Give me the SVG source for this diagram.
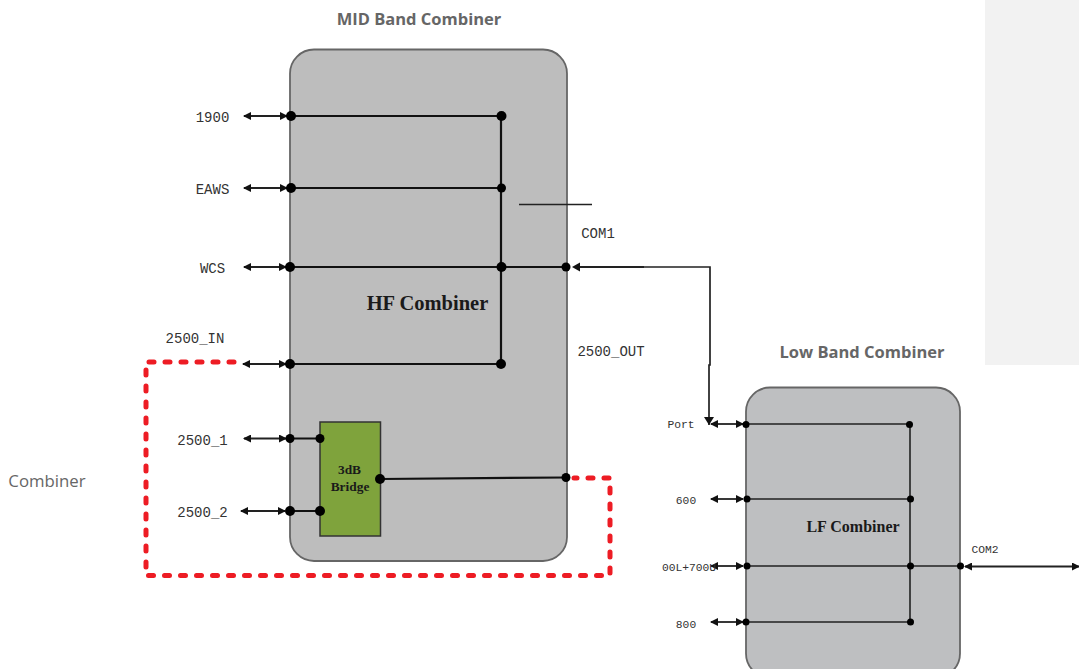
<svg xmlns="http://www.w3.org/2000/svg" width="1079" height="669" viewBox="0 0 1079 669">
<style>
.box{stroke:#666;stroke-width:1.8}
.w{fill:none;stroke:#111;stroke-width:2.2}
.t{fill:none;stroke:#222;stroke-width:1.6}
.a{fill:none;stroke:#222;stroke-width:1.8;marker-start:url(#ah);marker-end:url(#ah)}
.lbl{font-family:"Liberation Mono","DejaVu Sans Mono",monospace;font-size:14px;fill:#333;text-anchor:middle}
.sm{font-size:11.300px}
.b{font-family:"Liberation Serif","DejaVu Serif",serif;font-weight:bold;fill:#1a1a1a;text-anchor:middle}
.h{font-family:"Open Sans","Liberation Sans",sans-serif;font-size:16.500px;font-weight:bold;fill:#666;text-anchor:middle}
.red{fill:none;stroke:#ed1c24;stroke-width:5;stroke-linecap:round;stroke-dasharray:5 11}
</style>
<defs>
<marker id="ah" viewBox="0 0 8 8" refX="7" refY="4" markerWidth="8" markerHeight="8" markerUnits="userSpaceOnUse" orient="auto-start-reverse"><path d="M0 0L8 4L0 8Z" fill="#111"/></marker>
<marker id="ae" viewBox="0 0 8 10" refX="8" refY="5" markerWidth="8" markerHeight="10" markerUnits="userSpaceOnUse" orient="auto"><path d="M0 0L8 5L0 10Z" fill="#111"/></marker>
</defs>
<rect id="sidebar" x="985" y="0" width="94" height="365" fill="#f2f2f2"/>
<g id="mid-band-combiner">
<rect class="box" x="290" y="49.500" width="277" height="511.500" rx="24" fill="#bdbdbd"/>
<text class="h" x="419" y="25">MID Band Combiner</text>
<text class="b" x="427.500" y="310" font-size="20.500">HF Combiner</text>
</g>
<g id="low-band-combiner">
<rect class="box" x="746" y="387.500" width="214" height="290" rx="24" fill="#bebfc1"/>
<text class="h" x="862" y="358">Low Band Combiner</text>
<text class="b" x="853" y="532" font-size="16">LF Combiner</text>
</g>
<g id="bridge">
<rect x="320" y="422" width="60.500" height="114" fill="#7fa33c" stroke="#333" stroke-width="1.500"/>
<text class="b" x="349.500" y="474" font-size="13.400">3dB</text>
<text class="b" x="350" y="491" font-size="13.400">Bridge</text>
</g>
<g id="connectors">
<path class="w" d="M290 116H501M290 188H501M290 267H566M290 364H501M501 116V364M380 479L566 477.500M290 438.500H320M290 511H320"/>
<path class="t" d="M519 204.500H592M746 424H909M746 499H911M746 566H960M746 622H909M910 424V622" />
<path d="M580 267H710V365H709V425" fill="none" stroke="#222" stroke-width="1.700" marker-end="url(#ae)"/>
<path class="t" d="M580 267H644" style="stroke-width:2.200"/>
<path class="a" d="M244 116H287"/>
<path class="a" d="M244 188H287"/>
<path class="a" d="M244 267H286"/>
<path class="a" d="M243 364H286"/>
<path class="a" d="M244 438.500H286"/>
<path class="a" d="M241 511H285"/>
<path class="a" d="M711 424H743"/>
<path class="a" d="M711 499H743"/>
<path class="a" d="M711 566H743"/>
<path class="a" d="M711 622H743"/>
<path class="a" d="M965 566.500H1079"/>
<path d="M580 262.500L572 267L580 271.500Z" fill="#111"/>
<path class="red" d="M234 362H146V575.500H610V478H574"/>
</g>
<g id="dots" fill="#000">
<circle cx="291" cy="116" r="5"/><circle cx="291" cy="188" r="5"/><circle cx="290" cy="267" r="5"/><circle cx="290" cy="364" r="5"/><circle cx="290" cy="438.500" r="4.500"/><circle cx="290" cy="511" r="5"/>
<circle cx="320" cy="438.500" r="4.500"/><circle cx="320" cy="511" r="5"/><circle cx="380" cy="479" r="5"/>
<circle cx="501.500" cy="116" r="5"/><circle cx="501.500" cy="188" r="4.500"/><circle cx="501.500" cy="267" r="5"/><circle cx="501" cy="364" r="5"/><circle cx="566" cy="267" r="4.500"/><circle cx="566" cy="477.500" r="4.500"/>
<circle cx="746" cy="424.500" r="3.500"/><circle cx="747" cy="499" r="3.500"/><circle cx="747" cy="566" r="3.500"/><circle cx="746" cy="622" r="3.500"/>
<circle cx="909.500" cy="424.500" r="3.500"/><circle cx="910.500" cy="499" r="3.500"/><circle cx="910.500" cy="566" r="3.500"/><circle cx="910.500" cy="622" r="3.500"/><circle cx="960.500" cy="566" r="3.500"/>
</g>
<g id="labels">
<text class="lbl" x="212.500" y="122">1900</text>
<text class="lbl" x="212.500" y="194">EAWS</text>
<text class="lbl" x="212.500" y="273">WCS</text>
<text class="lbl" x="195" y="343">2500_IN</text>
<text class="lbl" x="202.500" y="445">2500_1</text>
<text class="lbl" x="202.500" y="517">2500_2</text>
<text class="lbl" x="598" y="238">COM1</text>
<text class="lbl" x="611" y="356">2500_OUT</text>
<text class="lbl sm" x="681" y="428">Port</text>
<text class="lbl sm" x="686" y="504">600</text>
<text class="lbl sm" x="689" y="571">00L+700U</text>
<text class="lbl sm" x="686" y="628">800</text>
<text class="lbl sm" x="985" y="553">COM2</text>
<text x="47" y="487" font-family="Open Sans,Liberation Sans,sans-serif" font-size="16.800" fill="#666" text-anchor="middle">Combiner</text>
</g>
</svg>
